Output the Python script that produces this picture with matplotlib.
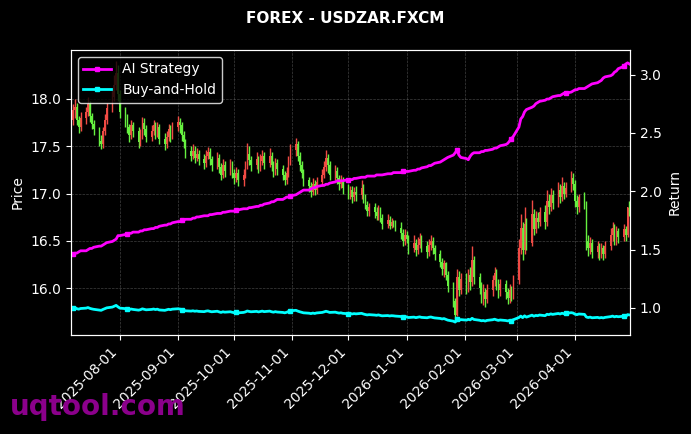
import numpy as np
import pandas as pd
import matplotlib
matplotlib.use("Agg")
import matplotlib.pyplot as plt
import matplotlib.dates as mdates

title = "FOREX - USDZAR.FXCM"
start_date = "2025-07-07"
end_date = "2026-04-30"
price_ticks = [16.0, 16.5, 17.0, 17.5, 18.0]

open_ = [
    17.78, 17.88, 17.92, 17.78, 17.70,
    17.80, 17.86, 17.95, 17.82, 17.74,
    17.68, 17.56, 17.52, 17.66, 17.78,
    17.90, 18.02, 18.15, 18.28, 18.05,
    17.86, 17.78, 17.70, 17.62, 17.72,
    17.66, 17.55, 17.62, 17.75, 17.68,
    17.60, 17.66, 17.72, 17.64, 17.70,
    17.58, 17.52, 17.60, 17.68, 17.62,
    17.70, 17.76, 17.72, 17.62, 17.55,
    17.45, 17.40, 17.45, 17.38, 17.42,
    17.36, 17.32, 17.40, 17.44, 17.36,
    17.30, 17.38, 17.28, 17.20, 17.30,
    17.24, 17.30, 17.22, 17.16, 17.22,
    17.14, 17.20, 17.28, 17.42, 17.35,
    17.30, 17.36, 17.28, 17.34, 17.40,
    17.32, 17.40, 17.30, 17.24, 17.32,
    17.26, 17.20, 17.14, 17.22, 17.34,
    17.46, 17.52, 17.40, 17.30, 17.22,
    17.14, 17.08, 17.02, 17.10, 17.04,
    17.12, 17.20, 17.28, 17.38, 17.30,
    17.20, 17.24, 17.16, 17.10, 17.14,
    17.06, 17.00, 17.04, 16.96, 17.02,
    16.98, 17.06, 16.96, 16.88, 16.82,
    16.86, 16.80, 16.76, 16.82, 16.74,
    16.68, 16.72, 16.66, 16.70, 16.68,
    16.64, 16.58, 16.50, 16.56, 16.52,
    16.42, 16.48, 16.40, 16.46, 16.52,
    16.44, 16.38, 16.46, 16.50, 16.42,
    16.36, 16.28, 16.20, 16.26, 16.14,
    16.02, 15.86, 15.72, 16.12, 15.98,
    16.10, 16.02, 16.14, 16.06, 16.30,
    16.12, 16.00, 15.92, 15.96, 15.88,
    15.98, 16.08, 16.16, 16.06, 15.98,
    16.04, 15.96, 15.90, 15.98, 15.92,
    16.08, 16.42, 16.64, 16.40, 16.68,
    16.48, 16.78, 16.62, 16.74, 16.70,
    16.80, 16.70, 16.92, 16.86, 16.98,
    16.90, 17.04, 16.96, 17.08, 17.00,
    17.06, 17.16, 17.10, 16.92, 16.86,
    16.96, 16.90, 16.50, 16.42, 16.48,
    16.38, 16.44, 16.36, 16.42, 16.36,
    16.44, 16.56, 16.64, 16.52, 16.60,
    16.54, 16.62, 16.56, 16.90,
]
high = [
    17.95, 18.00, 17.96, 17.82, 17.86,
    17.92, 18.02, 17.98, 17.85, 17.78,
    17.70, 17.62, 17.70, 17.84, 17.96,
    18.10, 18.25, 18.40, 18.36, 18.10,
    17.92, 17.84, 17.74, 17.78, 17.76,
    17.70, 17.68, 17.81, 17.80, 17.72,
    17.72, 17.78, 17.76, 17.76, 17.74,
    17.64, 17.66, 17.74, 17.72, 17.76,
    17.82, 17.80, 17.76, 17.66, 17.58,
    17.50, 17.52, 17.50, 17.48, 17.46,
    17.42, 17.46, 17.49, 17.48, 17.40,
    17.44, 17.42, 17.32, 17.36, 17.34,
    17.36, 17.34, 17.26, 17.28, 17.26,
    17.26, 17.34, 17.53, 17.50, 17.40,
    17.44, 17.40, 17.42, 17.46, 17.44,
    17.48, 17.44, 17.34, 17.38, 17.36,
    17.30, 17.24, 17.28, 17.40, 17.52,
    17.59, 17.56, 17.44, 17.34, 17.26,
    17.18, 17.12, 17.16, 17.14, 17.18,
    17.26, 17.34, 17.46, 17.42, 17.34,
    17.30, 17.28, 17.20, 17.20, 17.18,
    17.10, 17.08, 17.08, 17.07, 17.08,
    17.14, 17.10, 17.00, 16.92, 16.90,
    16.90, 16.86, 16.88, 16.86, 16.78,
    16.78, 16.76, 16.74, 16.72, 16.72,
    16.70, 16.62, 16.62, 16.60, 16.56,
    16.56, 16.52, 16.54, 16.58, 16.56,
    16.50, 16.52, 16.56, 16.54, 16.46,
    16.40, 16.32, 16.30, 16.28, 16.18,
    16.06, 15.90, 16.20, 16.18, 16.16,
    16.16, 16.20, 16.22, 16.45, 16.34,
    16.16, 16.06, 16.04, 16.00, 16.04,
    16.14, 16.22, 16.20, 16.10, 16.10,
    16.08, 16.00, 16.04, 16.02, 16.14,
    16.52, 16.78, 16.70, 16.86, 16.74,
    16.93, 16.84, 16.82, 16.80, 16.86,
    16.88, 17.04, 17.00, 17.06, 17.04,
    17.12, 17.10, 17.17, 17.12, 17.12,
    17.24, 17.22, 17.14, 16.98, 17.00,
    17.02, 16.92, 16.56, 16.54, 16.52,
    16.50, 16.48, 16.48, 16.46, 16.50,
    16.64, 16.70, 16.68, 16.66, 16.64,
    16.68, 16.66, 16.86, 16.92,
]
low = [
    17.72, 17.80, 17.72, 17.64, 17.66,
    17.74, 17.82, 17.76, 17.68, 17.62,
    17.50, 17.47, 17.48, 17.62, 17.74,
    17.86, 17.98, 18.10, 17.98, 17.80,
    17.70, 17.64, 17.55, 17.58, 17.60,
    17.48, 17.50, 17.58, 17.62, 17.55,
    17.56, 17.62, 17.58, 17.60, 17.52,
    17.46, 17.48, 17.56, 17.55, 17.58,
    17.66, 17.64, 17.56, 17.48, 17.38,
    17.34, 17.36, 17.32, 17.34, 17.30,
    17.26, 17.28, 17.36, 17.30, 17.24,
    17.26, 17.22, 17.14, 17.16, 17.18,
    17.20, 17.16, 17.10, 17.12, 17.08,
    17.08, 17.16, 17.26, 17.30, 17.24,
    17.26, 17.22, 17.24, 17.30, 17.26,
    17.28, 17.24, 17.18, 17.20, 17.20,
    17.14, 17.09, 17.10, 17.18, 17.30,
    17.40, 17.34, 17.24, 17.16, 17.08,
    17.02, 16.96, 16.98, 16.98, 17.00,
    17.08, 17.16, 17.24, 17.22, 17.14,
    17.14, 17.10, 17.04, 17.06, 17.00,
    16.94, 16.94, 16.90, 16.92, 16.92,
    16.94, 16.90, 16.84, 16.76, 16.76,
    16.74, 16.72, 16.72, 16.70, 16.62,
    16.64, 16.62, 16.63, 16.65, 16.60,
    16.52, 16.44, 16.46, 16.48, 16.36,
    16.38, 16.34, 16.36, 16.42, 16.38,
    16.32, 16.34, 16.40, 16.36, 16.30,
    16.22, 16.14, 16.12, 16.08, 15.96,
    15.80, 15.66, 15.70, 15.92, 15.94,
    15.94, 15.96, 15.98, 16.02, 16.04,
    15.94, 15.84, 15.82, 15.80, 15.84,
    15.92, 16.02, 15.98, 15.90, 15.92,
    15.88, 15.83, 15.84, 15.86, 15.88,
    16.04, 16.36, 16.30, 16.36, 16.40,
    16.44, 16.56, 16.58, 16.64, 16.66,
    16.62, 16.66, 16.78, 16.82, 16.84,
    16.86, 16.90, 16.92, 16.94, 16.96,
    17.02, 17.04, 16.86, 16.78, 16.80,
    16.84, 16.40, 16.34, 16.36, 16.32,
    16.32, 16.30, 16.32, 16.30, 16.32,
    16.40, 16.50, 16.46, 16.46, 16.48,
    16.50, 16.50, 16.54, 16.76,
]
close = [
    17.88, 17.92, 17.78, 17.70, 17.80,
    17.86, 17.95, 17.82, 17.74, 17.68,
    17.56, 17.52, 17.66, 17.78, 17.90,
    18.02, 18.15, 18.28, 18.05, 17.86,
    17.78, 17.70, 17.62, 17.72, 17.66,
    17.55, 17.62, 17.75, 17.68, 17.60,
    17.66, 17.72, 17.64, 17.70, 17.58,
    17.52, 17.60, 17.68, 17.62, 17.70,
    17.76, 17.72, 17.62, 17.55, 17.45,
    17.40, 17.45, 17.38, 17.42, 17.36,
    17.32, 17.40, 17.44, 17.36, 17.30,
    17.38, 17.28, 17.20, 17.30, 17.24,
    17.30, 17.22, 17.16, 17.22, 17.14,
    17.20, 17.28, 17.42, 17.35, 17.30,
    17.36, 17.28, 17.34, 17.40, 17.32,
    17.40, 17.30, 17.24, 17.32, 17.26,
    17.20, 17.14, 17.22, 17.34, 17.46,
    17.52, 17.40, 17.30, 17.22, 17.14,
    17.08, 17.02, 17.10, 17.04, 17.12,
    17.20, 17.28, 17.38, 17.30, 17.20,
    17.24, 17.16, 17.10, 17.14, 17.06,
    17.00, 17.04, 16.96, 17.02, 16.98,
    17.06, 16.96, 16.88, 16.82, 16.86,
    16.80, 16.76, 16.82, 16.74, 16.68,
    16.72, 16.66, 16.70, 16.68, 16.64,
    16.58, 16.50, 16.56, 16.52, 16.42,
    16.48, 16.40, 16.46, 16.52, 16.44,
    16.38, 16.46, 16.50, 16.42, 16.36,
    16.28, 16.20, 16.26, 16.14, 16.02,
    15.86, 15.72, 16.12, 15.98, 16.10,
    16.02, 16.14, 16.06, 16.30, 16.12,
    16.00, 15.92, 15.96, 15.88, 15.98,
    16.08, 16.16, 16.06, 15.98, 16.04,
    15.96, 15.90, 15.98, 15.92, 16.08,
    16.42, 16.64, 16.40, 16.68, 16.48,
    16.78, 16.62, 16.74, 16.70, 16.80,
    16.70, 16.92, 16.86, 16.98, 16.90,
    17.04, 16.96, 17.08, 17.00, 17.06,
    17.16, 17.10, 16.92, 16.86, 16.96,
    16.90, 16.50, 16.42, 16.48, 16.38,
    16.44, 16.36, 16.42, 16.36, 16.44,
    16.56, 16.64, 16.52, 16.60, 16.54,
    16.62, 16.56, 16.86, 16.82,
]
ai_return = [
    1.46, 1.47, 1.47, 1.48, 1.49,
    1.49, 1.50, 1.51, 1.51, 1.52,
    1.53, 1.53, 1.54, 1.55, 1.56,
    1.57, 1.58, 1.59, 1.62, 1.62,
    1.63, 1.63, 1.64, 1.64, 1.65,
    1.65, 1.66, 1.66, 1.67, 1.67,
    1.68, 1.68, 1.69, 1.69, 1.70,
    1.71, 1.71, 1.72, 1.72, 1.73,
    1.74, 1.74, 1.75, 1.75, 1.76,
    1.76, 1.77, 1.77, 1.78, 1.78,
    1.79, 1.79, 1.79, 1.80, 1.80,
    1.81, 1.81, 1.81, 1.82, 1.82,
    1.83, 1.83, 1.83, 1.84, 1.84,
    1.85, 1.85, 1.85, 1.86, 1.86,
    1.87, 1.87, 1.88, 1.88, 1.89,
    1.90, 1.91, 1.91, 1.92, 1.93,
    1.93, 1.94, 1.95, 1.95, 1.96,
    1.97, 1.98, 1.99, 2.00, 2.01,
    2.01, 2.02, 2.03, 2.03, 2.04,
    2.05, 2.05, 2.06, 2.06, 2.07,
    2.08, 2.09, 2.09, 2.09, 2.09,
    2.10, 2.10, 2.10, 2.11, 2.11,
    2.12, 2.12, 2.12, 2.13, 2.13,
    2.13, 2.14, 2.14, 2.14, 2.14,
    2.15, 2.15, 2.15, 2.16, 2.16,
    2.16, 2.17, 2.17, 2.17, 2.17,
    2.18, 2.18, 2.19, 2.19, 2.20,
    2.21, 2.22, 2.22, 2.23, 2.24,
    2.25, 2.26, 2.27, 2.28, 2.29,
    2.31, 2.33, 2.35, 2.31, 2.29,
    2.28, 2.27, 2.30, 2.32, 2.33,
    2.33, 2.34, 2.34, 2.35, 2.35,
    2.36, 2.37, 2.37, 2.38, 2.39,
    2.40, 2.41, 2.43, 2.45, 2.47,
    2.55, 2.62, 2.64, 2.68, 2.70,
    2.72, 2.73, 2.75, 2.76, 2.77,
    2.78, 2.79, 2.79, 2.80, 2.81,
    2.82, 2.82, 2.83, 2.84, 2.84,
    2.85, 2.86, 2.87, 2.87, 2.88,
    2.88, 2.89, 2.90, 2.91, 2.92,
    2.93, 2.94, 2.95, 2.97, 2.98,
    2.99, 3.00, 3.02, 3.03, 3.05,
    3.07, 3.09, 3.10, 3.09,
]

dates = pd.bdate_range(start_date, end_date)
o = np.array(open_)
h = np.array(high)
l = np.array(low)
c = np.array(close)
ai = np.array(ai_return)
bh = c / c[0]

BG = "black"
UP = "#f04a44"
DOWN = "#66f040"

fig = plt.figure(figsize=(6.91, 4.34), dpi=100, facecolor=BG)
ax = fig.add_axes([0.1027, 0.228, 0.8093, 0.657])
ax.set_facecolor(BG)
ax2 = ax.twinx()

xn = mdates.date2num(dates)
cols = np.where(c >= o, UP, DOWN)
ax.vlines(xn, l, h, colors=cols, linewidth=1.0)
ax.bar(xn, np.maximum(np.abs(c - o), 0.005), bottom=np.minimum(o, c),
       width=0.8, color=cols, linewidth=0)

ax2.plot(dates, ai, color="#ff00ff", linewidth=2, marker="s", markersize=3,
         markevery=21, label="AI Strategy")
ax2.plot(dates, bh, color="#00ffff", linewidth=2, marker="s", markersize=3,
         markevery=21, label="Buy-and-Hold")

ax.set_xlim(xn[0] - 1.1, xn[-1] + 0.4)
ax.set_ylim(15.503, 18.519)
ax.set_yticks(price_ticks)
ax.xaxis.set_major_locator(mdates.MonthLocator())
ax.xaxis.set_major_formatter(mdates.DateFormatter("%Y-%m-%d"))
for lab in ax.get_xticklabels():
    lab.set_rotation(45)
    lab.set_ha("right")

ax.grid(True, color="gray", linestyle="--", linewidth=0.5, alpha=0.5)
for a in (ax, ax2):
    for sp in a.spines.values():
        sp.set_color("white")
    a.tick_params(colors="white", labelsize=10)
ax.set_ylabel("Price", color="white", fontsize=10)
ax2.set_ylabel("Return", color="white", fontsize=10)

fig.suptitle(title, color="white", fontsize=11, fontweight="bold", y=0.975)

leg = ax2.legend(loc="upper left", facecolor=BG, edgecolor="white",
                 labelcolor="white", fontsize=10, framealpha=0.8)

fig.text(0.0145, 0.044, "uqtool.com", color="#8b008b", fontsize=20,
         fontweight="bold", va="baseline", ha="left")

fig.savefig("out.png", dpi=100, facecolor=BG)
